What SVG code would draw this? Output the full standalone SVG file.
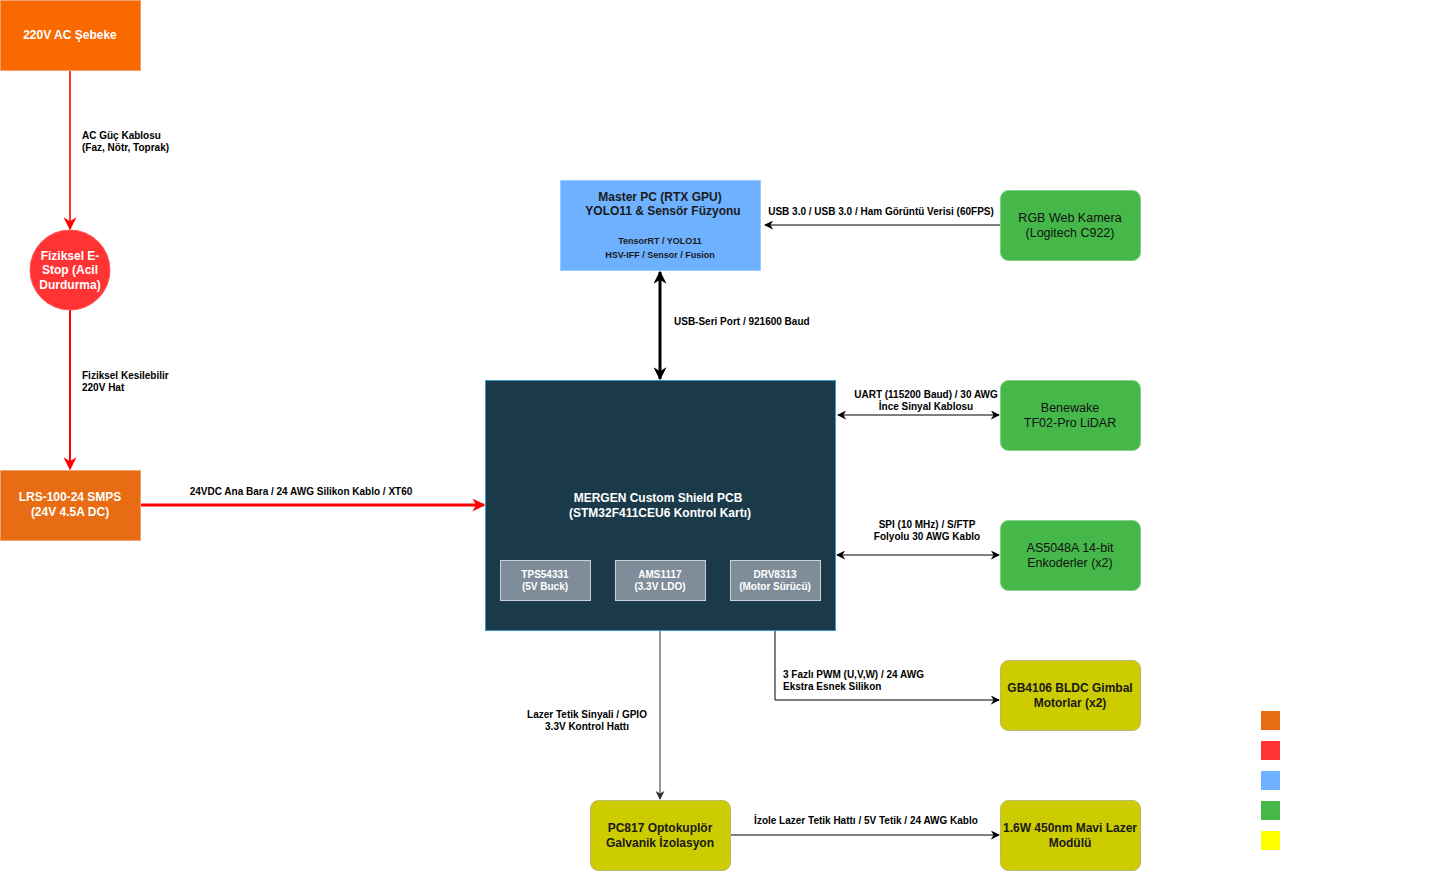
<svg xmlns="http://www.w3.org/2000/svg" width="1431" height="889" viewBox="0 0 1431 889">
<style>
text{font-family:"Liberation Sans",Arial,sans-serif}
.nl{font-size:12px;font-weight:bold;fill:#ffffff;text-anchor:middle}
.nd{font-size:12.5px;fill:#111111;text-anchor:middle}
.ndb{font-size:12px;font-weight:bold;fill:#1a1a1a;text-anchor:middle}
.sm{font-size:9px;font-weight:bold;fill:#1a1a1a;text-anchor:middle}
.smw{font-size:10px;font-weight:bold;fill:#ffffff;text-anchor:middle}
.el{font-size:10px;font-weight:bold;fill:#000000}
.green{fill:#46B84A;stroke:#82D186;stroke-width:1}
.yellow{fill:#CCCC00;stroke:#B8B870;stroke-width:1}
.sub{fill:#7F8C99;stroke:#C8D0D8;stroke-width:1}
</style>
<defs>
<marker id="ar" viewBox="0 0 10 10" refX="9" refY="5" markerWidth="13" markerHeight="13" markerUnits="userSpaceOnUse" orient="auto"><path d="M0,0 L10,5 L0,10 L3,5 z" fill="#FF0000"/></marker>
<marker id="ab" viewBox="0 0 10 10" refX="9" refY="5" markerWidth="9" markerHeight="9" markerUnits="userSpaceOnUse" orient="auto-start-reverse"><path d="M0,0 L10,5 L0,10 L3,5 z" fill="#000000"/></marker>
<marker id="ag" viewBox="0 0 10 10" refX="9" refY="5" markerWidth="9" markerHeight="9" markerUnits="userSpaceOnUse" orient="auto"><path d="M0,0 L10,5 L0,10 L3,5 z" fill="#333333"/></marker>
<marker id="abt" viewBox="0 0 10 10" refX="9" refY="5" markerWidth="13" markerHeight="13" markerUnits="userSpaceOnUse" orient="auto-start-reverse"><path d="M0,0 L10,5 L0,10 L3,5 z" fill="#000000"/></marker>
</defs>

<g id="connectors">
<line x1="70" y1="70" x2="70" y2="229" stroke="#FF3333" stroke-width="2" marker-end="url(#ar)"/>
<text class="el" x="82" y="139">AC Güç Kablosu</text>
<text class="el" x="82" y="151">(Faz, Nötr, Toprak)</text>
<line x1="70" y1="310" x2="70" y2="469" stroke="#FF0000" stroke-width="2" marker-end="url(#ar)"/>
<text class="el" x="82" y="379">Fiziksel Kesilebilir</text>
<text class="el" x="82" y="391">220V Hat</text>
<line x1="140" y1="505" x2="484" y2="505" stroke="#FF0000" stroke-width="3" marker-end="url(#ar)"/>
<text class="el" x="301" y="495" text-anchor="middle">24VDC Ana Bara / 24 AWG Silikon Kablo / XT60</text>
<line x1="1000" y1="225" x2="765" y2="225" stroke="#000000" stroke-width="1" marker-end="url(#ab)"/>
<text class="el" x="881" y="215" text-anchor="middle">USB 3.0 / USB 3.0 / Ham Görüntü Verisi (60FPS)</text>
<line x1="660" y1="272" x2="660" y2="379" stroke="#000000" stroke-width="3" marker-start="url(#abt)" marker-end="url(#abt)"/>
<text class="el" x="674" y="325">USB-Seri Port / 921600 Baud</text>
<line x1="838" y1="415" x2="999" y2="415" stroke="#000000" stroke-width="1" marker-start="url(#ab)" marker-end="url(#ab)"/>
<text class="el" x="926" y="398" text-anchor="middle">UART (115200 Baud) / 30 AWG</text>
<text class="el" x="926" y="410" text-anchor="middle">İnce Sinyal Kablosu</text>
<line x1="837" y1="555" x2="999" y2="555" stroke="#000000" stroke-width="1" marker-start="url(#ab)" marker-end="url(#ab)"/>
<text class="el" x="927" y="528" text-anchor="middle">SPI (10 MHz) / S/FTP</text>
<text class="el" x="927" y="540" text-anchor="middle">Folyolu 30 AWG Kablo</text>
<polyline points="775,600 775,700 999,700" fill="none" stroke="#000000" stroke-width="1" marker-end="url(#ab)"/>
<text class="el" x="783" y="678">3 Fazlı PWM (U,V,W) / 24 AWG</text>
<text class="el" x="783" y="690">Ekstra Esnek Silikon</text>
<line x1="660" y1="630" x2="660" y2="799" stroke="#333333" stroke-width="1" marker-end="url(#ag)"/>
<text class="el" x="587" y="718" text-anchor="middle">Lazer Tetik Sinyali / GPIO</text>
<text class="el" x="587" y="730" text-anchor="middle">3.3V Kontrol Hattı</text>
<line x1="730" y1="835" x2="999" y2="835" stroke="#000000" stroke-width="1" marker-end="url(#ab)"/>
<text class="el" x="866" y="824" text-anchor="middle">İzole Lazer Tetik Hattı / 5V Tetik / 24 AWG Kablo</text>
</g>

<g id="node-ac">
<rect x="0.5" y="0.5" width="140" height="70" fill="#FA6800" stroke="#F5A070" stroke-width="1"/>
<text class="nl" x="70" y="39">220V AC Şebeke</text>
</g>
<g id="node-estop">
<circle cx="70" cy="270" r="40" fill="#FF3333" stroke="#FF5555" stroke-width="1"/>
<text class="nl" x="70" y="260">Fiziksel E-</text>
<text class="nl" x="70" y="274">Stop (Acil</text>
<text class="nl" x="70" y="289">Durdurma)</text>
</g>
<g id="node-smps">
<rect x="0.5" y="470.5" width="140" height="70" fill="#E86C14" stroke="#F5A070" stroke-width="1"/>
<text class="nl" x="70" y="501">LRS-100-24 SMPS</text>
<text class="nl" x="70" y="516">(24V 4.5A DC)</text>
</g>
<g id="node-pc">
<rect x="560.5" y="180.5" width="200" height="90" fill="#6EB1FF" stroke="#9CCBFF" stroke-width="1"/>
<text class="ndb" x="660" y="201">Master PC (RTX GPU)</text>
<text class="ndb" x="663" y="215">YOLO11 &amp; Sensör Füzyonu</text>
<text class="sm" x="660" y="244">TensorRT / YOLO11</text>
<text class="sm" x="660" y="258">HSV-IFF / Sensor / Fusion</text>
</g>
<g id="node-camera">
<rect x="1000.5" y="190.5" width="140" height="70" rx="8" class="green"/>
<text class="nd" x="1070" y="222">RGB Web Kamera</text>
<text class="nd" x="1070" y="237">(Logitech C922)</text>
</g>
<g id="node-mergen">
<rect x="485.5" y="380.5" width="350" height="250" fill="#1A3A4A" stroke="#3A9AD0" stroke-width="1"/>
<text class="nl" x="658" y="502">MERGEN Custom Shield PCB</text>
<text class="nl" x="660" y="517">(STM32F411CEU6 Kontrol Kartı)</text>
</g>
<g id="node-tps">
<rect x="500.5" y="560.5" width="90" height="40" class="sub"/>
<text class="smw" x="545" y="578">TPS54331</text>
<text class="smw" x="545" y="590">(5V Buck)</text>
</g>
<g id="node-ams">
<rect x="615.5" y="560.5" width="90" height="40" class="sub"/>
<text class="smw" x="660" y="578">AMS1117</text>
<text class="smw" x="660" y="590">(3.3V LDO)</text>
</g>
<g id="node-drv">
<rect x="730.5" y="560.5" width="90" height="40" class="sub"/>
<text class="smw" x="775" y="578">DRV8313</text>
<text class="smw" x="775" y="590">(Motor Sürücü)</text>
</g>
<g id="node-lidar">
<rect x="1000.5" y="380.5" width="140" height="70" rx="8" class="green"/>
<text class="nd" x="1070" y="412">Benewake</text>
<text class="nd" x="1070" y="427">TF02-Pro LiDAR</text>
</g>
<g id="node-encoder">
<rect x="1000.5" y="520.5" width="140" height="70" rx="8" class="green"/>
<text class="nd" x="1070" y="552">AS5048A 14-bit</text>
<text class="nd" x="1070" y="567">Enkoderler (x2)</text>
</g>
<g id="node-gimbal">
<rect x="1000.5" y="660.5" width="140" height="70" rx="8" class="yellow"/>
<text class="ndb" x="1070" y="692">GB4106 BLDC Gimbal</text>
<text class="ndb" x="1070" y="707">Motorlar (x2)</text>
</g>
<g id="node-pc817">
<rect x="590.5" y="800.5" width="140" height="70" rx="8" class="yellow"/>
<text class="ndb" x="660" y="832">PC817 Optokuplör</text>
<text class="ndb" x="660" y="847">Galvanik İzolasyon</text>
</g>
<g id="node-laser">
<rect x="1000.5" y="800.5" width="140" height="70" rx="8" class="yellow"/>
<text class="ndb" x="1070" y="832">1.6W 450nm Mavi Lazer</text>
<text class="ndb" x="1070" y="847">Modülü</text>
</g>
<g id="legend">
<rect x="1261" y="711" width="19" height="19" fill="#E86C14"/>
<rect x="1261" y="741" width="19" height="19" fill="#FF3333"/>
<rect x="1261" y="771" width="19" height="19" fill="#6EB1FF"/>
<rect x="1261" y="801" width="19" height="19" fill="#46B84A"/>
<rect x="1261" y="831" width="19" height="19" fill="#FFFF00"/>
</g>
</svg>
